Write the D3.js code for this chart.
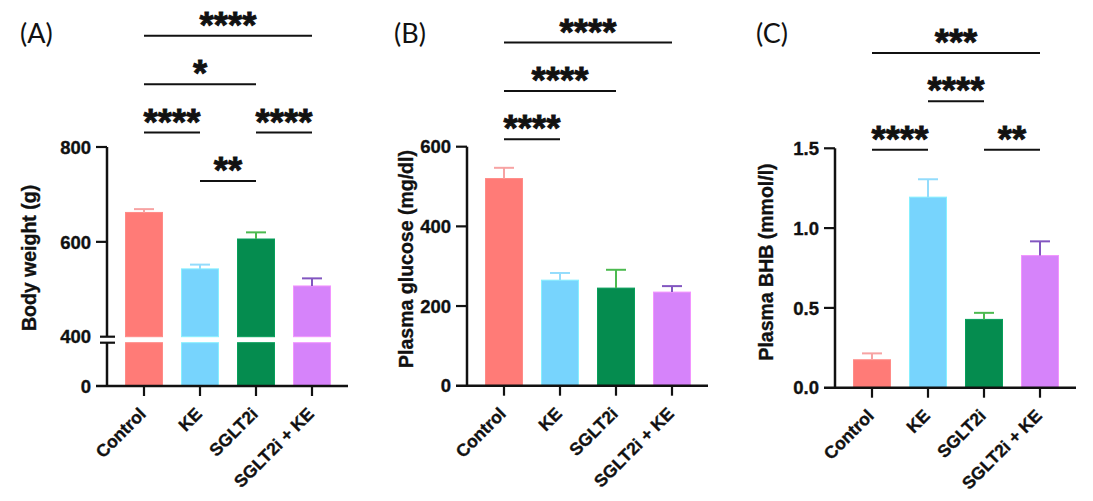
<!DOCTYPE html>
<html>
<head>
<meta charset="utf-8">
<script src="https://cdn.jsdelivr.net/npm/d3@7/dist/d3.min.js"></script>
<style>
  html, body { margin: 0; padding: 0; background: #fff; }
  svg { display: block; }
</style>
</head>
<body>
<svg id="chart" width="1093" height="501"></svg>
<script>
// ---------- data ----------
const categories = ["Control", "KE", "SGLT2i", "SGLT2i + KE"];
const barColors = ["#ff7b77", "#77d4fd", "#058c4f", "#d683fa"];
const errColors = ["#f7a3a3", "#93dcfc", "#4cba50", "#8256c0"];

const bodyWeightMean = [662, 543, 606, 507];
const bodyWeightSem  = [7, 9, 14, 16];
const glucoseMean = [520, 265, 245, 235];
const glucoseSem  = [27, 18, 46, 15];
const bhbMean = [0.175, 1.194, 0.428, 0.828];
const bhbSem  = [0.04, 0.112, 0.041, 0.089];

const ticksA = [0, 400, 600, 800];
const ticksB = [0, 200, 400, 600];
const ticksC = [0, 0.5, 1.0, 1.5];

// significance comparisons: [from, to, level, label]
const sigA = [[1, 2, 0, "**"], [0, 1, 1, "****"], [2, 3, 1, "****"], [0, 2, 2, "*"], [0, 3, 3, "****"]];
const sigB = [[0, 1, 0, "****"], [0, 2, 1, "****"], [0, 3, 2, "****"]];
const sigC = [[0, 1, 0, "****"], [2, 3, 0, "**"], [1, 2, 1, "****"], [0, 3, 2, "***"]];

// ---------- drawing ----------
const svg = d3.select("#chart");
const FONT = "'Liberation Sans', Arial, Helvetica, sans-serif";

function boldText(sel, size) {
  return sel.attr("font-family", FONT).attr("font-weight", "bold")
    .attr("font-size", size).attr("fill", "#111")
    .attr("stroke", "#111").attr("stroke-width", 0.35);
}

function panel(cfg) {
  const g = svg.append("g");
  const x = d3.scalePoint().domain(categories).range([cfg.x0 + 37, cfg.x0 + 205]);
  const xEnd = cfg.x0 + 241;
  const barW = 37, capW = 20;

  let y, segments;
  if (cfg.broken) {
    const lower = d3.scaleLinear().domain([0, cfg.breakAt]).range([cfg.y0, cfg.breakLowTop]);
    const upper = d3.scaleLinear().domain([cfg.breakAt, cfg.max]).range([cfg.breakHighBot, cfg.yTop]);
    y = v => v <= cfg.breakAt ? lower(v) : upper(v);
    segments = [[cfg.y0, cfg.breakLowTop], [cfg.breakHighBot, cfg.yTop]];
  } else {
    y = d3.scaleLinear().domain([0, cfg.max]).range([cfg.y0, cfg.yTop]);
    segments = [[cfg.y0, cfg.yTop]];
  }

  // bars
  categories.forEach((c, i) => {
    const cx = x(c), v = cfg.mean[i];
    const fill = barColors[i];
    const stroke = d3.color(fill).brighter(0.35).formatHex();
    const pieces = cfg.broken
      ? [[cfg.breakLowTop, cfg.y0], [y(v), cfg.breakHighBot]]
      : [[y(v), cfg.y0]];
    pieces.forEach(([t, b]) => {
      g.append("rect").attr("x", cx - barW / 2).attr("width", barW)
        .attr("y", t).attr("height", b - t)
        .attr("fill", fill).attr("stroke", stroke).attr("stroke-width", 1);
    });
    const top = y(v + cfg.sem[i]);
    g.append("line").attr("x1", cx).attr("x2", cx).attr("y1", y(v)).attr("y2", top)
      .attr("stroke", errColors[i]).attr("stroke-width", 2);
    g.append("line").attr("x1", cx - capW / 2).attr("x2", cx + capW / 2).attr("y1", top).attr("y2", top)
      .attr("stroke", errColors[i]).attr("stroke-width", 2);
  });

  // y axis line(s)
  segments.forEach(s => {
    g.append("line").attr("x1", cfg.x0).attr("x2", cfg.x0).attr("y1", s[0]).attr("y2", s[1])
      .attr("stroke", "#111").attr("stroke-width", 2.5);
  });
  if (cfg.broken) {
    [cfg.breakLowTop, cfg.breakHighBot].forEach(yy => {
      g.append("line").attr("x1", cfg.x0 - 7).attr("x2", cfg.x0 + 8).attr("y1", yy).attr("y2", yy)
        .attr("stroke", "#111").attr("stroke-width", 2.2);
    });
  }
  // x axis line
  g.append("line").attr("x1", cfg.x0 - 11).attr("x2", xEnd).attr("y1", cfg.y0).attr("y2", cfg.y0)
    .attr("stroke", "#111").attr("stroke-width", 2.5);

  // y ticks
  cfg.ticks.forEach(t => {
    const isBreak = cfg.broken && t === cfg.breakAt;
    const yy = isBreak ? cfg.breakHighBot : y(t);
    if (!isBreak && t !== 0) {
      g.append("line").attr("x1", cfg.x0 - 11).attr("x2", cfg.x0).attr("y1", yy).attr("y2", yy)
        .attr("stroke", "#111").attr("stroke-width", 2.2);
    }
    boldText(g.append("text"), 18.5).attr("x", cfg.x0 - 16).attr("y", yy).attr("dy", "0.36em")
      .attr("text-anchor", "end").text(cfg.fmt(t));
  });

  // x ticks and labels
  categories.forEach(c => {
    const cx = x(c);
    g.append("line").attr("x1", cx).attr("x2", cx).attr("y1", cfg.y0).attr("y2", cfg.y0 + 10)
      .attr("stroke", "#111").attr("stroke-width", 2.2);
    boldText(g.append("text"), 17.5)
      .attr("transform", `translate(${cx + 3},${cfg.y0 + 29}) rotate(-45)`)
      .attr("text-anchor", "end").text(c);
  });

  // y title
  boldText(g.append("text"), 19.5)
    .attr("transform", `translate(${cfg.titleX},${cfg.titleY}) rotate(-90)`)
    .attr("text-anchor", "middle").attr("dy", "0.35em").text(cfg.title);

  // panel letter
  g.append("text").attr("x", cfg.letterX).attr("y", 43)
    .attr("font-family", "Lato, 'Open Sans', sans-serif").attr("font-size", 27)
    .attr("fill", "#111").text(cfg.letter);

  // significance
  cfg.sig.forEach(([a, b, lvl, lab]) => {
    const yy = cfg.sigBase - lvl * 48.4;
    const x1 = x(categories[a]), x2 = x(categories[b]);
    g.append("line").attr("x1", x1).attr("x2", x2).attr("y1", yy).attr("y2", yy)
      .attr("stroke", "#111").attr("stroke-width", 2);
    g.append("text").attr("x", (x1 + x2) / 2).attr("y", yy + 2)
      .attr("text-anchor", "middle").attr("font-family", FONT).attr("font-weight", "bold")
      .attr("font-size", 37).attr("fill", "#111").attr("stroke", "#111").attr("stroke-width", 0.8)
      .attr("textLength", lab.length * 14.2).attr("lengthAdjust", "spacingAndGlyphs")
      .text(lab);
  });
}

panel({
  x0: 107, y0: 386, yTop: 147, max: 800, broken: true, breakAt: 400,
  breakLowTop: 342.7, breakHighBot: 336.7,
  mean: bodyWeightMean, sem: bodyWeightSem, ticks: ticksA, fmt: d3.format("d"),
  title: "Body weight (g)", titleX: 29, titleY: 258,
  letter: "(A)", letterX: 20, sig: sigA, sigBase: 181
});
panel({
  x0: 467, y0: 385.7, yTop: 146.7, max: 600,
  mean: glucoseMean, sem: glucoseSem, ticks: ticksB, fmt: d3.format("d"),
  title: "Plasma glucose (mg/dl)", titleX: 406, titleY: 259,
  letter: "(B)", letterX: 394, sig: sigB, sigBase: 139.3
});
panel({
  x0: 835, y0: 387.7, yTop: 148.3, max: 1.5,
  mean: bhbMean, sem: bhbSem, ticks: ticksC, fmt: d3.format(".1f"),
  title: "Plasma BHB (mmol/l)", titleX: 766, titleY: 262,
  letter: "(C)", letterX: 756, sig: sigC, sigBase: 149.7
});
</script>
</body>
</html>
